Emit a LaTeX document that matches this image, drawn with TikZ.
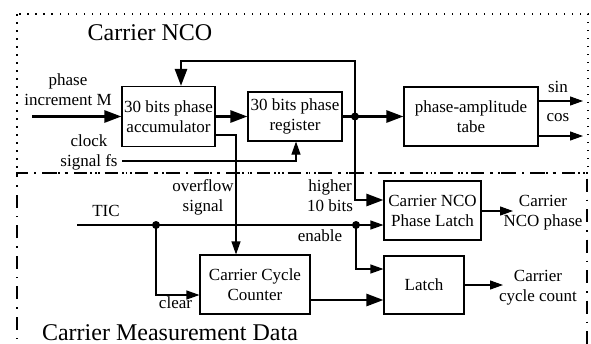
\documentclass[tikz,border=0pt]{standalone}
\usepackage{fontspec}
\setmainfont{Liberation Serif}
\usetikzlibrary{arrows.meta,calc}
\tikzset{blk/.style={draw,line width=1.1pt,align=center,inner sep=1pt,font=\fontsize{17}{20}\selectfont},
  lbl/.style={align=center,inner sep=0pt,font=\fontsize{17}{20}\selectfont},
  ttl/.style={inner sep=0pt,font=\fontsize{24}{26}\selectfont},
  bus/.style={line width=2.6pt,-{Triangle[length=17pt,width=12pt]}},
  sig/.style={line width=1.1pt,-{Triangle[length=13pt,width=9pt]}},
  jdot/.style={circle,fill,inner sep=0pt,minimum size=8pt}}

\begin{document}
\begin{tikzpicture}[x=1pt,y=-1pt]
          \clip (0,0) rectangle (591,343);

          % the two regions
          \draw[line width=1.5pt,dash pattern=on 1.5pt off 6.5pt] (17,14) rectangle (588,173);
          \draw[line width=1.8pt,dash pattern=on 13pt off 8pt on 1.5pt off 8pt] (17,360) -- (17,173) -- (587,173) -- (587,360);
          \node (nco) [ttl] at (150,33) {Carrier NCO};
          \node (cmd) [ttl] at (170,333) {Carrier Measurement Data};

          % blocks
          \node (acc) [blk,minimum width=93pt,minimum height=60pt] at (168.5,116.5) {30 bits phase\\accumulator};
          \node (reg) [blk,minimum width=94pt,minimum height=49pt] at (295,116.5) {30 bits phase\\register};
          \node (pat) [blk,minimum width=134pt,minimum height=59pt] at (471,116.5) {phase-amplitude\\tabe};
          \node (nplatch) [blk,minimum width=97pt,minimum height=59pt] at (432.5,210.5) {Carrier NCO\\Phase Latch};
          \node (latch) [blk,minimum width=80pt,minimum height=58pt] at (424,285) {Latch};
          \node (ccc) [blk,minimum width=110pt,minimum height=59pt] at (255,284.5) {Carrier Cycle\\Counter};

          % free ends and junctions
          \coordinate (pin) at (32,116.5);
          \coordinate (clk) at (122,161);
          \coordinate (fb) at (355,61);
          \coordinate (tic) at (77,225);
          \coordinate (sin) at (583,101);
          \coordinate (cos) at (583,136);
          \coordinate (ncoout) at (513,211);
          \coordinate (cntout) at (503,285);
          \node (j) [jdot] at (355,116.5) {};
          \node (d1) [jdot] at (156,225) {};
          \node (d2) [jdot] at (356,225) {};

          % thick arrows
          \draw[bus] (pin) -- (acc.west);
          \draw[bus] (acc.east) -- (acc.east -| reg.west);
          \draw[bus] (reg.east) -- (reg.east -| pat.west);
          \draw[bus] (j.center) -- (fb) -| ([xshift=12.5pt]acc.north);
          \draw[bus] (j.center) |- ([yshift=10.5pt]nplatch.west);
          \draw[bus] ([yshift=-15.5pt]ccc.east) -- ([yshift=-15.5pt]ccc.east -| latch.west);

          % thin arrows
          \draw[sig] (clk) -| ([xshift=1pt]reg.south);
          \draw[sig] ([yshift=-18.5pt]acc.east) -| ([xshift=-19pt]ccc.north);
          \draw[sig] (pat.east |- sin) -- (sin);
          \draw[sig] (pat.east |- cos) -- (cos);
          \draw[sig] (tic) -- ([yshift=-14.5pt]nplatch.west);
          \draw[sig] (d1.center) |- ([yshift=-10.5pt]ccc.west);
          \draw[sig] (d2.center) |- ([yshift=16pt]latch.west);
          \draw[sig] (nplatch.east |- ncoout) -- (ncoout);
          \draw[sig] (latch.east |- cntout) -- (cntout);

          % labels
          \node (lpin) [lbl] at (68,90) {phase\\increment M};
          \node (lclk) [lbl] at (89,152) {clock\\signal fs};
          \node (lovf) [lbl] at (203,197) {overflow\\signal};
          \node (ltic) [lbl] at (106,211) {TIC};
          \node (lclr) [lbl] at (175.5,303) {clear};
          \node (lhi) [lbl] at (330,196) {higher\\10 bits};
          \node (len) [lbl] at (320,236) {enable};
          \node (lsin) [lbl] at (558,87) {sin};
          \node (lcos) [lbl] at (558,118) {cos};
          \node (lnco) [lbl] at (543,213) {Carrier\\NCO phase};
          \node (lcnt) [lbl] at (538,288) {Carrier\\cycle count};

        \end{tikzpicture}
\end{document}
